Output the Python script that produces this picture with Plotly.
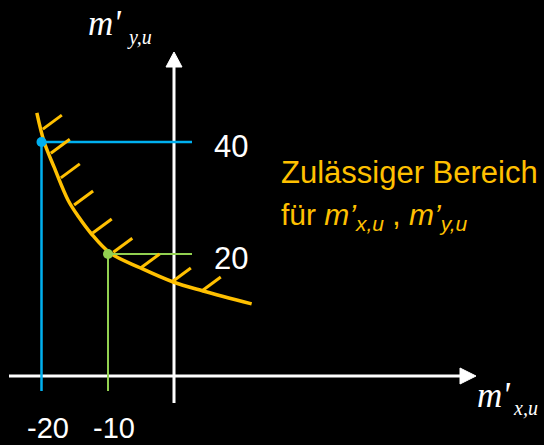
import plotly.graph_objects as go

W, H = 544, 445

# ---- pixel calibration of the drawing area (layout, not data) ----
X0_PX, X_SCALE = 174.5, 6.65
Y0_PX, Y_SCALE = 366.0, 5.6
def px2x(p): return (p - X0_PX) / X_SCALE
def py2y(p): return (Y0_PX - p) / Y_SCALE

# ---- data ----
curve_x = [-20.7, -19.6, -18.1, -16.0, -14.4, -12.6, -9.7, -5.1, -0.2, 4.3, 11.6]
curve_y = [45.2, 40.0, 35.5, 29.6, 26.6, 23.75, 20.2, 17.5, 15.0, 13.4, 11.1]

hatch_x = [-19.8, -18.6, -17.1, -15.1, -12.3, -9.2, -5.1, -0.4, 4.1]
hatch_y = [42.3, 38.0, 33.6, 28.75, 23.75, 20.3, 17.5, 15.0, 13.4]

point_x = [-20, -10]
point_y = [40, 20]

x_tick_vals = [-20, -10]
x_tick_text = ["-20", "-10"]
y_tick_vals = [40, 20]
y_tick_text = ["40", "20"]

region_line1 = "Zulässiger Bereich"
region_line2 = "für <i>m’<sub>x,u</sub></i> , <i>m’<sub>y,u</sub></i>"

# ---- styles ----
ORANGE = "#FFC000"
BLUE = "#00B0F0"
GREEN = "#92D050"
WHITE = "#FFFFFF"
point_colors = [BLUE, GREEN]
SANS = "Arial, Liberation Sans, sans-serif"
SERIF = "Times New Roman, Liberation Serif, serif"

fig = go.Figure()
shapes = []
annotations = []

# axes (white lines with arrowheads)
ax_y = py2y(376)
shapes.append(dict(type="line", x0=px2x(9), x1=px2x(461), y0=ax_y, y1=ax_y,
                   line=dict(color=WHITE, width=3), layer="below"))
shapes.append(dict(type="path",
                   path=f"M {px2x(476)},{ax_y} L {px2x(460)},{py2y(368)} L {px2x(460)},{py2y(384)} Z",
                   fillcolor=WHITE, line=dict(color=WHITE, width=1)))
ay_x = px2x(174)
shapes.append(dict(type="line", x0=ay_x, x1=ay_x, y0=py2y(403), y1=py2y(66),
                   line=dict(color=WHITE, width=3), layer="below"))
shapes.append(dict(type="path",
                   path=f"M {ay_x},{py2y(52)} L {px2x(166)},{py2y(67)} L {px2x(182)},{py2y(67)} Z",
                   fillcolor=WHITE, line=dict(color=WHITE, width=1)))

# guide lines from the points
guide_right = px2x(192)
guide_bottom = py2y(391)
for px_, py_, c, w in zip(point_x, point_y, point_colors, [2.5, 2]):
    shapes.append(dict(type="line", x0=px_, x1=guide_right, y0=py_, y1=py_,
                       line=dict(color=c, width=w)))
    shapes.append(dict(type="line", x0=px_, x1=px_, y0=py_, y1=guide_bottom,
                       line=dict(color=c, width=w)))

# hatches on the boundary curve
HX, HY = 19, 14
for hx, hy in zip(hatch_x, hatch_y):
    shapes.append(dict(type="line", x0=hx, y0=hy, x1=hx + HX / X_SCALE, y1=hy + HY / Y_SCALE,
                       line=dict(color=ORANGE, width=3)))

# boundary curve
fig.add_trace(go.Scatter(x=curve_x, y=curve_y, mode="lines",
                         line=dict(color=ORANGE, width=3.5, shape="spline", smoothing=1.0),
                         hoverinfo="skip"))

# points
fig.add_trace(go.Scatter(x=point_x, y=point_y, mode="markers",
                         marker=dict(color=point_colors, size=10, line=dict(width=0)),
                         hoverinfo="skip"))

# tick labels
for v, t in zip(y_tick_vals, y_tick_text):
    annotations.append(dict(x=px2x(231), y=v, text=t, showarrow=False,
                            xanchor="center", yanchor="middle", yshift=-4,
                            font=dict(family=SANS, size=31, color=WHITE)))
for v, t in zip(x_tick_vals, x_tick_text):
    annotations.append(dict(x=v, y=py2y(H), text=t, showarrow=False,
                            xanchor="center", yanchor="bottom", xshift=6, borderpad=0,
                            font=dict(family=SANS, size=29, color=WHITE)))

# region text
annotations.append(dict(x=px2x(279), y=py2y(172.5), text=region_line1, showarrow=False,
                        xanchor="left", yanchor="middle",
                        font=dict(family=SANS, size=31, color=ORANGE)))
annotations.append(dict(x=px2x(279), y=py2y(216), text=region_line2, showarrow=False,
                        xanchor="left", yanchor="middle",
                        font=dict(family=SANS, size=30, color=ORANGE)))

# axis titles
annotations.append(dict(x=px2x(86), y=py2y(23), text="<i>m'</i>", showarrow=False,
                        xanchor="left", yanchor="middle",
                        font=dict(family=SERIF, size=35, color=WHITE)))
annotations.append(dict(x=px2x(125), y=py2y(37), text="<i>y,u</i>", showarrow=False,
                        xanchor="left", yanchor="middle",
                        font=dict(family=SERIF, size=20, color=WHITE)))
annotations.append(dict(x=px2x(475), y=py2y(395), text="<i>m'</i>", showarrow=False,
                        xanchor="left", yanchor="middle",
                        font=dict(family=SERIF, size=35, color=WHITE)))
annotations.append(dict(x=px2x(511), y=py2y(408), text="<i>x,u</i>", showarrow=False,
                        xanchor="left", yanchor="middle",
                        font=dict(family=SERIF, size=20, color=WHITE)))

fig.update_layout(
    width=W, height=H,
    margin=dict(l=0, r=0, t=0, b=0),
    paper_bgcolor="black", plot_bgcolor="black",
    showlegend=False,
    xaxis=dict(range=[px2x(0), px2x(W)], visible=False, fixedrange=True),
    yaxis=dict(range=[py2y(H), py2y(0)], visible=False, fixedrange=True),
    shapes=shapes, annotations=annotations,
)

fig.write_html("out.html", config={"displayModeBar": False},
               post_script="document.body.style.margin='0';document.body.style.background='black';")
